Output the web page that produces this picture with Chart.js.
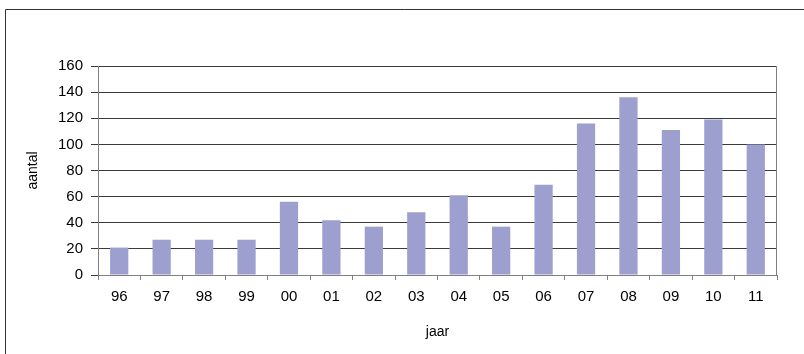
<!DOCTYPE html>
<html>
<head>
<meta charset="utf-8">
<script src="https://cdn.jsdelivr.net/npm/chart.js@4/dist/chart.umd.min.js"></script>
<style>
  html, body { margin: 0; padding: 0; background: #fff; }
  #wrap { width: 804px; height: 354px; }
</style>
</head>
<body>
<div id="wrap"><canvas id="jaarchart" width="804" height="354"></canvas></div>
<script>
// aantallen per jaar
var jaren = ['96', '97', '98', '99', '00', '01', '02', '03', '04', '05', '06', '07', '08', '09', '10', '11'];
var aantal = [21, 27, 27, 27, 56, 42, 37, 48, 61, 37, 69, 116, 136, 111, 119, 100];
var yTicks = [0, 20, 40, 60, 80, 100, 120, 140, 160];

// kader om de grafiek en rechterrand van het plotvlak
var kader = {
    id: 'kader',
    afterDraw: function (chart) {
        var ctx = chart.ctx, area = chart.chartArea;
        ctx.save();
        ctx.lineWidth = 1;
        ctx.strokeStyle = '#333333';
        ctx.beginPath();
        ctx.moveTo(5.5, chart.height);
        ctx.lineTo(5.5, 9.5);
        ctx.lineTo(chart.width, 9.5);
        ctx.stroke();
        ctx.strokeStyle = '#808080';
        ctx.beginPath();
        ctx.moveTo(Math.round(area.right) - 0.5, area.top);
        ctx.lineTo(Math.round(area.right) - 0.5, area.bottom);
        ctx.stroke();
        ctx.restore();
    }
};

Chart.defaults.font.family = '"Liberation Sans", Arial, sans-serif';
Chart.defaults.color = '#000000';

new Chart(document.getElementById('jaarchart'), {
    type: 'bar',
    data: {
        labels: jaren,
        datasets: [{
            data: aantal,
            backgroundColor: '#9d9fcf',
            borderWidth: 0,
            barPercentage: 0.43,
            categoryPercentage: 1
        }]
    },
    options: {
        responsive: false,
        animation: false,
        layout: { padding: { top: 66, right: 27, left: 0, bottom: 0 } },
        plugins: {
            legend: { display: false },
            tooltip: { enabled: false }
        },
        scales: {
            x: {
                grid: {
                    drawOnChartArea: false,
                    drawTicks: true,
                    tickLength: 5,
                    color: '#808080'
                },
                border: { color: '#808080' },
                ticks: { font: { size: 15 }, padding: 8, maxRotation: 0 },
                title: {
                    display: true,
                    text: 'jaar',
                    font: { size: 14 },
                    padding: { top: 0, bottom: 13 }
                },
                afterFit: function (scale) { scale.height = 79; }
            },
            y: {
                min: 0,
                max: 160,
                afterBuildTicks: function (scale) {
                    scale.ticks = yTicks.map(function (v) { return { value: v }; });
                },
                grid: {
                    color: '#3a3a3a',
                    tickLength: 7
                },
                border: { color: '#808080' },
                ticks: { font: { size: 15 }, padding: 8 },
                title: {
                    display: true,
                    text: 'aantal',
                    font: { size: 14 },
                    padding: { top: 25, bottom: 0 }
                },
                afterFit: function (scale) { scale.width = 98; }
            }
        }
    },
    plugins: [kader]
});
</script>
</body>
</html>
